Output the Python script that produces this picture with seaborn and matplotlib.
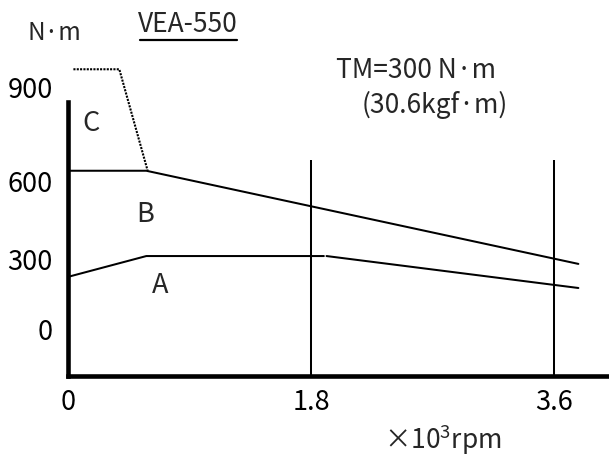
import numpy as np
import pandas as pd
import matplotlib
matplotlib.use("Agg")
import matplotlib.pyplot as plt
from matplotlib.lines import Line2D
import seaborn as sns

# ---- data -------------------------------------------------------------
speed_ticks = [0, 1.8, 3.6]
speed_tick_labels = ["0", "1.8", "3.6"]
torque_ticks = [0, 300, 600, 900]
torque_tick_labels = ["0", "300", "600", "900"]

# curve B (short-time rating)
curve_b_speed = [0.0, 0.58, 3.78]
curve_b_torque = [635, 635, 283]
# curve A (continuous rating), drawn as two pieces
curve_a_speed = [0.0, 0.58, 1.895]
curve_a_torque = [227, 315, 315]
curve_a2_speed = [1.915, 3.78]
curve_a2_torque = [315, 179]
# peak (C) boundary, dotted
peak_speed = [0.04, 0.38, 0.59]
peak_torque = [960, 960, 635]
# reference speeds
marker_speeds = [1.8, 3.6]
marker_top = 671

# ---- schematic (piecewise-linear) torque scale ------------------------
knots_val = np.array([0.0, 300.0, 600.0, 900.0])
knots_pos = np.array([0.0, 69.5, 147.8, 241.5])


def _pw(xk, yk):
    def f(v):
        a = np.asarray(v, dtype=float)
        flat = a.ravel().copy()
        out = np.interp(flat, xk, yk)
        lo = flat < xk[0]
        hi = flat > xk[-1]
        out[lo] = yk[0] + (flat[lo] - xk[0]) * (yk[1] - yk[0]) / (xk[1] - xk[0])
        out[hi] = yk[-1] + (flat[hi] - xk[-1]) * (yk[-1] - yk[-2]) / (xk[-1] - xk[-2])
        return out.reshape(a.shape)
    return f


fwd = _pw(knots_val, knots_pos)
inv = _pw(knots_pos, knots_val)

# ---- style ------------------------------------------------------------
sns.set_theme(style="white")
plt.rcParams["font.family"] = ["Noto Sans CJK JP", "DejaVu Sans"]
plt.rcParams["mathtext.fontset"] = "custom"
plt.rcParams["mathtext.rm"] = "Noto Sans CJK JP"
plt.rcParams["mathtext.it"] = "Noto Sans CJK JP"

W, H = 609, 458
fig = plt.figure(figsize=(W / 100, H / 100), dpi=100)
fig.patch.set_facecolor("white")
# axes spans from the bottom frame line up to the 900 level
ax = fig.add_axes([68 / W, (H - 376) / H, (W - 68) / W, (376 - 88) / H])
ax.set_facecolor("white")
ax.set_yscale("function", functions=(fwd, inv))

lw = 1.45
line_kw = dict(color="black", linewidth=lw, sort=False, estimator=None, ax=ax)

sns.lineplot(x=curve_b_speed, y=curve_b_torque, **line_kw)
sns.lineplot(x=curve_a_speed, y=curve_a_torque, **line_kw)
sns.lineplot(x=curve_a2_speed, y=curve_a2_torque, **line_kw)
sns.lineplot(x=peak_speed, y=peak_torque, color="black", linewidth=1.5,
             linestyle=(0, (1, 0.6)), sort=False, estimator=None, ax=ax,
             clip_on=False)

ax.set_xticks(speed_ticks, speed_tick_labels)
ax.set_yticks(torque_ticks, torque_tick_labels)
ax.set_xlim(0, 4.007)
ax.set_ylim(-201, 900)
ax.vlines(marker_speeds, -201, marker_top, color="black", linewidth=lw)

# axes frame: left rule stops short of the top
for side in ("top", "right"):
    ax.spines[side].set_visible(False)
for side in ("left", "bottom"):
    ax.spines[side].set_linewidth(3.3)
    ax.spines[side].set_color("black")
ax.spines["left"].set_bounds(-201, 856)

ax.tick_params(axis="both", length=0, labelsize=19.5, colors="black")
ax.tick_params(axis="y", pad=11)
ax.tick_params(axis="x", pad=9)
ax.set_xlabel("")
ax.set_ylabel("")
ax.grid(False)

# region labels
ax.text(0.17, 785, "C", fontsize=19.5, ha="center", va="center")
ax.text(0.57, 476, "B", fontsize=19.5, ha="center", va="center")
ax.text(0.68, 188, "A", fontsize=19.5, ha="center", va="center")


def fxy(x, y):
    return x / W, 1 - y / H


fig.text(*fxy(54, 33), "N·m", fontsize=17.5, ha="center", va="center")
fig.text(*fxy(188, 25), "VEA-550", fontsize=19, ha="center", va="center")
fig.add_artist(Line2D([140 / W, 237 / W], [1 - 39.5 / H] * 2,
                      transform=fig.transFigure, color="black", linewidth=1.6))
fig.text(*fxy(416, 71), "TM=300 N·m", fontsize=19, ha="center", va="center")
fig.text(*fxy(435, 105), "(30.6kgf·m)", fontsize=19, ha="center", va="center")
fig.text(*fxy(443, 440), r"×10$^{3}$rpm", fontsize=19, ha="center", va="center")

fig.savefig("out.png", dpi=100, facecolor="white")
